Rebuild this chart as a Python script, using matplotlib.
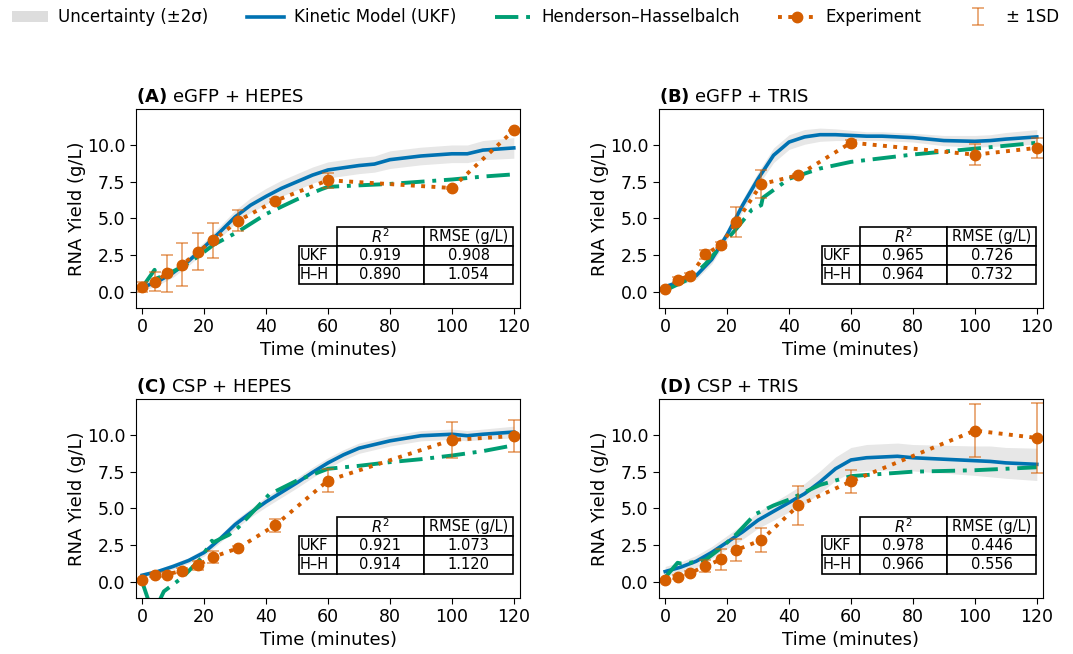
import matplotlib
matplotlib.use("Agg")
import matplotlib.pyplot as plt
from matplotlib.patches import Patch
from matplotlib.lines import Line2D
import numpy as np

# experiment sampling times (min)
t_exp = [0, 4, 8, 13, 18, 23, 31, 43, 60, 100, 120]

# model time grid for UKF curves
t_ukf = [0, 5, 10, 15, 20, 25, 30, 35, 40, 45, 50, 55, 60, 65, 70, 75, 80, 90, 100, 105, 110, 120]

panels = ["A", "B", "C", "D"]
titles = ["eGFP + HEPES", "eGFP + TRIS", "CSP + HEPES", "CSP + TRIS"]

exp_A = [0.34, 0.68, 1.25, 1.86, 2.73, 3.5, 4.84, 6.2, 7.6, 7.07, 11.0]
sd_A = [0.35, 0.65, 1.25, 1.45, 1.25, 1.2, 0.7, 0.1, 0.5, 0.05, 0.05]
exp_B = [0.16, 0.8, 1.1, 2.55, 3.2, 4.75, 7.33, 7.95, 10.16, 9.34, 9.8]
sd_B = [0.1, 0.2, 0.15, 0.3, 0.2, 1.0, 0.95, 0.1, 0.2, 0.7, 0.7]
exp_C = [0.1, 0.45, 0.5, 0.77, 1.14, 1.7, 2.3, 3.86, 6.9, 9.66, 9.93]
sd_C = [0.1, 0.15, 0.15, 0.2, 0.3, 0.4, 0.15, 0.45, 0.76, 1.24, 1.1]
exp_D = [0.1, 0.35, 0.6, 1.07, 1.53, 2.17, 2.84, 5.2, 6.84, 10.3, 9.8]
sd_D = [0.1, 0.15, 0.15, 0.4, 0.7, 0.75, 0.8, 1.3, 0.78, 1.8, 2.4]

ukf_A = [0.3, 0.7, 1.3, 2.1, 3.05, 4.05, 5.1, 5.9, 6.5, 7.05, 7.5, 7.95, 8.3, 8.45, 8.6, 8.7, 9.0, 9.25, 9.4, 9.4, 9.65, 9.8]
band_A = [0.25, 0.25, 0.3, 0.3, 0.35, 0.4, 0.45, 0.5, 0.55, 0.55, 0.55, 0.55, 0.55, 0.55, 0.55, 0.55, 0.6, 0.6, 0.6, 0.6, 0.65, 0.7]
ukf_B = [0.35, 0.7, 1.1, 2.2, 3.9, 5.9, 7.7, 9.3, 10.2, 10.55, 10.7, 10.7, 10.65, 10.6, 10.6, 10.55, 10.5, 10.3, 10.25, 10.3, 10.4, 10.55]
band_B = [0.2, 0.2, 0.25, 0.3, 0.35, 0.4, 0.45, 0.5, 0.5, 0.5, 0.45, 0.4, 0.35, 0.3, 0.3, 0.3, 0.3, 0.35, 0.4, 0.4, 0.45, 0.5]
ukf_C = [0.45, 0.7, 1.05, 1.45, 2.0, 2.9, 3.9, 4.7, 5.45, 6.1, 6.75, 7.45, 8.1, 8.65, 9.1, 9.35, 9.6, 9.95, 10.05, 9.95, 10.05, 10.2]
band_C = [0.15, 0.15, 0.2, 0.2, 0.25, 0.25, 0.3, 0.3, 0.35, 0.35, 0.35, 0.35, 0.35, 0.35, 0.35, 0.35, 0.35, 0.35, 0.35, 0.35, 0.35, 0.4]
ukf_D = [0.7, 1.0, 1.4, 2.0, 2.7, 3.4, 4.2, 4.8, 5.4, 6.0, 6.8, 7.7, 8.3, 8.45, 8.5, 8.55, 8.45, 8.35, 8.25, 8.2, 8.1, 8.0]
band_D = [0.35, 0.35, 0.4, 0.4, 0.45, 0.5, 0.55, 0.6, 0.65, 0.7, 0.75, 0.8, 0.85, 0.9, 0.9, 0.9, 0.9, 0.95, 1.0, 1.05, 1.05, 1.1]

# Henderson-Hasselbalch curves (own time points, piecewise)
t_hh_A = [0, 4, 4.5, 8, 13, 18, 23, 31, 40, 50, 58, 60, 70, 80, 90, 100, 110, 120]
hh_A = [0.3, 1.5, 0.9, 1.2, 1.7, 2.4, 3.2, 4.1, 5.3, 6.3, 7.0, 7.15, 7.25, 7.35, 7.5, 7.65, 7.85, 8.0]
t_hh_B = [0, 8, 13, 18, 23, 28, 31, 31.5, 40, 50, 60, 70, 80, 90, 100, 110, 120]
hh_B = [0.1, 0.9, 1.9, 3.1, 4.3, 5.6, 5.9, 6.4, 7.7, 8.4, 8.85, 9.1, 9.35, 9.55, 9.75, 9.95, 10.15]
t_hh_C = [0, 3.5, 7, 13, 19, 22.5, 23, 28, 31, 35, 41, 50, 60, 70, 80, 90, 100, 110, 120]
hh_C = [0.0, -2.2, -0.65, 0.3, 1.6, 2.8, 2.7, 3.2, 3.7, 4.6, 5.95, 6.9, 7.7, 7.9, 8.15, 8.35, 8.6, 8.9, 9.3]
t_hh_D = [0, 4, 5, 8, 13, 18, 23, 29, 35, 40, 50, 60, 70, 80, 90, 100, 110, 120]
hh_D = [0.3, 1.3, 1.25, 1.3, 1.5, 2.3, 3.25, 4.6, 5.2, 5.6, 6.6, 7.2, 7.35, 7.5, 7.55, 7.6, 7.7, 7.8]

# fit statistics
r2_ukf = [0.919, 0.965, 0.921, 0.978]
rmse_ukf = [0.908, 0.726, 1.073, 0.446]
r2_hh = [0.890, 0.964, 0.914, 0.966]
rmse_hh = [1.054, 0.732, 1.120, 0.556]

exps = [exp_A, exp_B, exp_C, exp_D]
sds = [sd_A, sd_B, sd_C, sd_D]
ukfs = [ukf_A, ukf_B, ukf_C, ukf_D]
bands = [band_A, band_B, band_C, band_D]
t_hhs = [t_hh_A, t_hh_B, t_hh_C, t_hh_D]
hhs = [hh_A, hh_B, hh_C, hh_D]

c_blue = "#0072B2"
c_green = "#009E73"
c_orange = "#D55E00"
c_band = "#DDDDDD"

fig = plt.figure(figsize=(10.73, 6.54), dpi=100)
W, H = 1073, 654
boxes = [(136, 109), (659, 109), (136, 399), (659, 399)]

err_handle = None
for i in range(4):
    x0, y0 = boxes[i]
    ax = fig.add_axes([x0 / W, 1 - (y0 + 199) / H, 384 / W, 199 / H])
    u = np.array(ukfs[i])
    b = np.array(bands[i])
    ax.fill_between(t_ukf, u - b, u + b, color=c_band, alpha=0.7, lw=0)
    ax.plot(t_ukf, u, color=c_blue, lw=2.6)
    ax.plot(t_hhs[i], hhs[i], color=c_green, lw=2.8, ls=(0, (6, 2, 1, 2)))
    eb = ax.errorbar(t_exp, exps[i], yerr=sds[i], fmt="none", ecolor=c_orange,
                     alpha=0.55, capsize=4, elinewidth=1.3, capthick=1.3)
    err_handle = eb
    ax.plot(t_exp, exps[i], color=c_orange, lw=2.8, ls=":", marker="o", ms=7.5)

    ax.set_xlim(-2, 122)
    ax.set_ylim(-1.1, 12.45)
    ax.set_xticks([0, 20, 40, 60, 80, 100, 120])
    ax.set_yticks([0, 2.5, 5, 7.5, 10])
    ax.set_yticklabels(["0.0", "2.5", "5.0", "7.5", "10.0"])
    ax.tick_params(labelsize=12.5, length=4)
    ax.set_xlabel("Time (minutes)", fontsize=13, labelpad=3)
    ax.set_ylabel("RNA Yield (g/L)", fontsize=13, labelpad=1)
    ax.set_title(r"$\bf{(" + panels[i] + r")}$ " + titles[i], loc="left", fontsize=13, pad=5)

    cell_text = [["UKF", f"{r2_ukf[i]:.3f}", f"{rmse_ukf[i]:.3f}"],
                 ["H\u2013H", f"{r2_hh[i]:.3f}", f"{rmse_hh[i]:.3f}"]]
    tb = ax.table(cellText=cell_text, colLabels=["", r"$R^2$", "RMSE (g/L)"],
                  cellLoc="center", colWidths=[0.176, 0.409, 0.415],
                  bbox=[0.424, 0.12, 0.558, 0.287])
    tb.auto_set_font_size(False)
    tb.set_fontsize(10.5)
    for (r, c), cell in tb.get_celld().items():
        cell.set_linewidth(1.2)
        if r == 0 and c == 0:
            cell.visible_edges = ""
        if c == 0 and r > 0:
            cell.get_text().set_ha("left")
            cell.PAD = 0.03

handles = [Patch(facecolor=c_band, edgecolor="none"),
           Line2D([], [], color=c_blue, lw=2.6),
           Line2D([], [], color=c_green, lw=2.8, ls=(0, (6, 2, 1, 2))),
           Line2D([], [], color=c_orange, lw=2.8, ls=":", marker="o", ms=7.5),
           err_handle]
labels = ["Uncertainty (\u00b12\u03c3)", "Kinetic Model (UKF)", "Henderson\u2013Hasselbalch",
          "Experiment", "\u00b1 1SD"]
fig.legend(handles, labels, loc="upper left", bbox_to_anchor=(0.0, 1.005, 0.998, 0.0),
           mode="expand", ncol=5, frameon=False, fontsize=12, handlelength=2.2,
           handletextpad=0.6, borderaxespad=0.3)

fig.savefig("out.png", dpi=100)
